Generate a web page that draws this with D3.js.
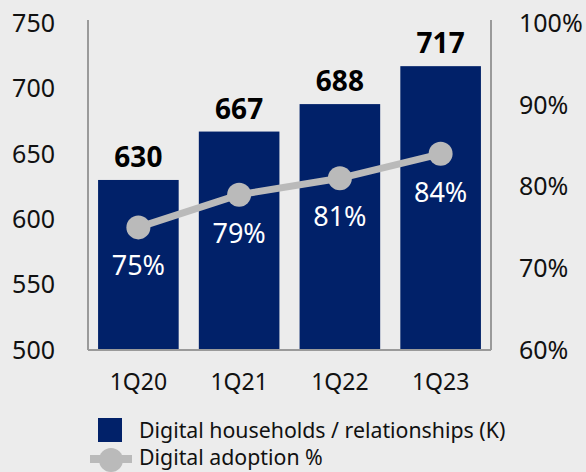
<!DOCTYPE html>
<html>
<head>
<meta charset="utf-8">
<script src="https://cdn.jsdelivr.net/npm/d3@7"></script>
<style>
	html, body { margin: 0; padding: 0; background: #ececec; }
	svg { display: block; font-family: "Noto Sans", sans-serif; }
</style>
</head>
<body>
<div class="chart"></div>
<script>
var categories = ["1Q20", "1Q21", "1Q22", "1Q23"];
var households = [630, 667, 688, 717];
var adoption = [75, 79, 81, 84];
var leftTicks = [500, 550, 600, 650, 700, 750];
var rightTicks = [60, 70, 80, 90, 100];
var seriesNames = ["Digital households / relationships (K)", "Digital adoption %"];

var W = 586, H = 472;
var margin = { top: 23, right: 95, bottom: 122, left: 88 },
	width = W - margin.left - margin.right,
	height = H - margin.top - margin.bottom;

var BAR = "#012169", LINE = "#bababa", AXIS = "#9a9a9a";

var svg = d3.select(".chart").append("svg")
	.attr("width", W)
	.attr("height", H);

var g = svg.append("g")
	.attr("transform", "translate(" + margin.left + "," + margin.top + ")");

var x = d3.scaleBand().domain(categories).range([0, width]).paddingInner(0.2).paddingOuter(0.1);
var yL = d3.scaleLinear().domain([500, 750]).range([height, 0]);
var yR = d3.scaleLinear().domain([60, 100]).range([height, 0]);

// left axis labels
g.selectAll(".ltick").data(leftTicks).enter().append("text")
	.attr("x", -33).attr("y", function (d) { return yL(d); })
	.attr("dy", "0.35em").attr("text-anchor", "end")
	.attr("font-size", 25).attr("fill", "#111")
	.text(function (d) { return d; });

// right axis labels
g.selectAll(".rtick").data(rightTicks).enter().append("text")
	.attr("x", width + 28).attr("y", function (d) { return yR(d); })
	.attr("dy", "0.35em").attr("text-anchor", "start")
	.attr("font-size", 25).attr("fill", "#111")
	.text(function (d) { return d + "%"; });

// bars
g.selectAll(".bar").data(households).enter().append("rect")
	.attr("x", function (d, i) { return x(categories[i]); })
	.attr("y", function (d) { return yL(d); })
	.attr("width", x.bandwidth())
	.attr("height", function (d) { return height - yL(d); })
	.attr("fill", BAR);

// bar value labels
g.selectAll(".bval").data(households).enter().append("text")
	.attr("x", function (d, i) { return x(categories[i]) + x.bandwidth() / 2; })
	.attr("y", function (d) { return yL(d) - 13; })
	.attr("text-anchor", "middle").attr("font-size", 28).attr("font-weight", "bold")
	.attr("fill", "#000")
	.text(function (d) { return d; });

// axis frame lines
g.append("line").attr("x1", 0).attr("x2", 0).attr("y1", -3).attr("y2", height)
	.attr("stroke", AXIS).attr("stroke-width", 2);
g.append("line").attr("x1", width).attr("x2", width).attr("y1", -3).attr("y2", height)
	.attr("stroke", AXIS).attr("stroke-width", 2);
g.append("line").attr("x1", 0).attr("x2", width).attr("y1", height).attr("y2", height)
	.attr("stroke", AXIS).attr("stroke-width", 2);

// adoption line
var line = d3.line()
	.x(function (d, i) { return x(categories[i]) + x.bandwidth() / 2; })
	.y(function (d) { return yR(d); });

g.append("path").datum(adoption)
	.attr("d", line).attr("fill", "none")
	.attr("stroke", LINE).attr("stroke-width", 7);

g.selectAll(".dot").data(adoption).enter().append("circle")
	.attr("cx", function (d, i) { return x(categories[i]) + x.bandwidth() / 2; })
	.attr("cy", function (d) { return yR(d); })
	.attr("r", 12).attr("fill", LINE);

g.selectAll(".pval").data(adoption).enter().append("text")
	.attr("x", function (d, i) { return x(categories[i]) + x.bandwidth() / 2; })
	.attr("y", function (d) { return yR(d) + 48; })
	.attr("text-anchor", "middle").attr("font-size", 27)
	.attr("fill", "#fff")
	.text(function (d) { return d + "%"; });

// category labels
g.selectAll(".cat").data(categories).enter().append("text")
	.attr("x", function (d) { return x(d) + x.bandwidth() / 2; })
	.attr("y", height + 32)
	.attr("dy", "0.35em")
	.attr("text-anchor", "middle").attr("font-size", 23).attr("fill", "#111")
	.text(function (d) { return d; });

// legend
var lg = svg.append("g");
lg.append("rect").attr("x", 98).attr("y", 418).attr("width", 24).attr("height", 24).attr("fill", BAR);
lg.append("line").attr("x1", 90).attr("x2", 132).attr("y1", 459).attr("y2", 459)
	.attr("stroke", LINE).attr("stroke-width", 8);
lg.append("circle").attr("cx", 111).attr("cy", 460).attr("r", 12).attr("fill", LINE);
lg.selectAll(".ltext").data(seriesNames).enter().append("text")
	.attr("x", 139).attr("y", function (d, i) { return 431 + i * 27; })
	.attr("dy", "0.35em").attr("font-size", 21.3).attr("fill", "#111")
	.text(function (d) { return d; });
</script>
</body>
</html>
